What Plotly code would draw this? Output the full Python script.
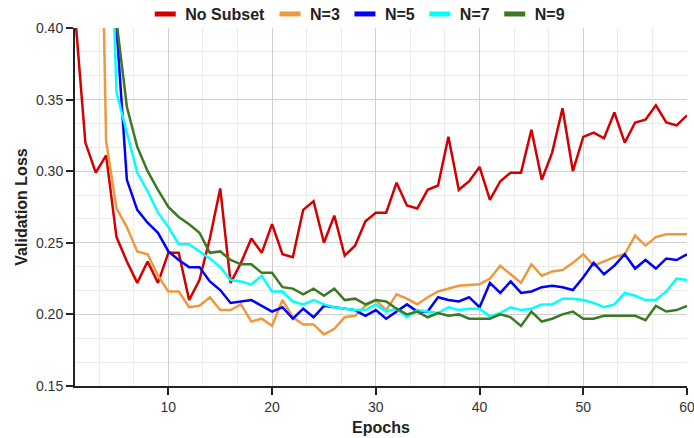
import plotly.graph_objects as go

epochs = list(range(1, 61))

series_names = ["No Subset", "N=3", "N=5", "N=7", "N=9"]
series_colors = ["#d40000", "#f0983c", "#0000ff", "#00ffff", "#3c7a22"]

no_subset = [0.41, 0.320, 0.299, 0.311, 0.254, 0.237, 0.222, 0.237, 0.222, 0.243,
             0.243, 0.210, 0.224, 0.253, 0.288, 0.222, 0.236, 0.253, 0.243, 0.263,
             0.242, 0.240, 0.273, 0.279, 0.250, 0.269, 0.241, 0.248, 0.265, 0.271,
             0.271, 0.292, 0.276, 0.274, 0.287, 0.290, 0.324, 0.287, 0.293, 0.303,
             0.280, 0.293, 0.299, 0.299, 0.329, 0.294, 0.313, 0.344, 0.300, 0.324,
             0.327, 0.323, 0.341, 0.320, 0.334, 0.336, 0.346, 0.334, 0.332, 0.339]

n3 = [1.05, 0.88, 0.70, 0.321, 0.274, 0.261, 0.244, 0.242, 0.227, 0.216,
      0.216, 0.205, 0.206, 0.212, 0.203, 0.203, 0.207, 0.195, 0.197, 0.192,
      0.210, 0.198, 0.193, 0.193, 0.186, 0.190, 0.198, 0.199, 0.206, 0.210,
      0.203, 0.214, 0.211, 0.207, 0.212, 0.216, 0.218, 0.220, 0.2205, 0.221,
      0.225, 0.234, 0.228, 0.222, 0.235, 0.227, 0.230, 0.231, 0.236, 0.242,
      0.234, 0.237, 0.240, 0.242, 0.255, 0.248, 0.254, 0.256, 0.256, 0.256]

n5 = [0.95, 0.80, 0.68, 0.60, 0.401, 0.294, 0.273, 0.264, 0.257, 0.244,
      0.238, 0.233, 0.233, 0.223, 0.217, 0.208, 0.209, 0.210, 0.206, 0.202,
      0.205, 0.197, 0.204, 0.198, 0.206, 0.205, 0.204, 0.203, 0.199, 0.203,
      0.197, 0.202, 0.207, 0.202, 0.202, 0.212, 0.210, 0.209, 0.212, 0.205,
      0.222, 0.215, 0.223, 0.215, 0.216, 0.219, 0.220, 0.219, 0.217, 0.226,
      0.236, 0.228, 0.234, 0.242, 0.232, 0.238, 0.232, 0.239, 0.238, 0.242]

n7 = [0.92, 0.78, 0.66, 0.58, 0.355, 0.326, 0.299, 0.286, 0.271, 0.261,
      0.249, 0.249, 0.244, 0.239, 0.233, 0.224, 0.223, 0.221, 0.227, 0.216,
      0.216, 0.209, 0.207, 0.210, 0.207, 0.205, 0.204, 0.203, 0.203, 0.207,
      0.202, 0.204, 0.198, 0.203, 0.202, 0.201, 0.205, 0.203, 0.204, 0.204,
      0.1985, 0.201, 0.205, 0.203, 0.204, 0.207, 0.207, 0.211, 0.211, 0.210,
      0.208, 0.205, 0.207, 0.215, 0.213, 0.210, 0.210, 0.216, 0.225, 0.224]

n9 = [0.98, 0.82, 0.70, 0.60, 0.405, 0.345, 0.317, 0.300, 0.287, 0.275,
      0.268, 0.263, 0.257, 0.243, 0.244, 0.238, 0.235, 0.235, 0.229, 0.229,
      0.219, 0.218, 0.214, 0.218, 0.213, 0.218, 0.210, 0.211, 0.207, 0.210,
      0.209, 0.204, 0.200, 0.202, 0.198, 0.201, 0.199, 0.200, 0.197, 0.197,
      0.197, 0.200, 0.198, 0.192, 0.202, 0.195, 0.197, 0.200, 0.202, 0.197,
      0.197, 0.199, 0.199, 0.199, 0.199, 0.196, 0.206, 0.202, 0.203, 0.206]

series_values = [no_subset, n3, n5, n7, n9]

x_tick_vals = [10, 20, 30, 40, 50, 60]
y_tick_vals = [0.15, 0.20, 0.25, 0.30, 0.35, 0.40]

FONT = "Liberation Sans, Arial, sans-serif"

fig = go.Figure()
for name, color, vals in zip(series_names, series_colors, series_values):
    fig.add_trace(go.Scatter(x=epochs, y=vals, mode="lines", name=name,
                             line=dict(color=color, width=2.5),
                             showlegend=False, hoverinfo="skip"))
# legend entries with short thick bars
for name, color in zip(series_names, series_colors):
    fig.add_trace(go.Scatter(x=[None], y=[None], mode="markers", name=name,
                             marker=dict(symbol="line-ew", size=15, color=color,
                                         line=dict(width=5, color=color)),
                             showlegend=True))

fig.update_layout(
    width=694, height=438,
    margin=dict(l=75, r=7, t=28, b=52, autoexpand=False),
    paper_bgcolor="white", plot_bgcolor="white",
    font=dict(family=FONT, size=14, color="#333"),
    legend=dict(orientation="h", x=0.462, xanchor="center", y=1.039, yanchor="middle",
                font=dict(family=FONT, size=16, color="#222", weight="bold"),
                itemwidth=30, tracegroupgap=0, bgcolor="rgba(0,0,0,0)"),
    xaxis=dict(range=[1, 60], tickmode="array", tickvals=x_tick_vals,
               ticks="outside", ticklen=7, tickwidth=1.5, tickcolor="#222",
               ticklabeloverflow="allow",
               showline=True, linecolor="#222", linewidth=2,
               showgrid=True, gridcolor="#cfcfcf", gridwidth=1,
               minor=dict(dtick=10/3, tick0=0, showgrid=True, gridcolor="#ebebeb", gridwidth=1, ticks=""),
               zeroline=False,
               title=dict(text="Epochs", font=dict(family=FONT, size=16, color="#222", weight="bold"), standoff=8),
               tickfont=dict(family=FONT, size=14, color="#333")),
    yaxis=dict(range=[0.15, 0.40], tickmode="array", tickvals=y_tick_vals,
               tickformat=".2f",
               ticks="outside", ticklen=7, tickwidth=1.5, tickcolor="#222",
               showline=True, linecolor="#222", linewidth=2,
               showgrid=True, gridcolor="#cfcfcf", gridwidth=1,
               minor=dict(dtick=0.05/3, tick0=0, showgrid=True, gridcolor="#ebebeb", gridwidth=1, ticks=""),
               zeroline=False,
               title=dict(text="Validation Loss", font=dict(family=FONT, size=16, color="#222", weight="bold"), standoff=4),
               tickfont=dict(family=FONT, size=14, color="#333")),
)

fig.write_html("out.html")
